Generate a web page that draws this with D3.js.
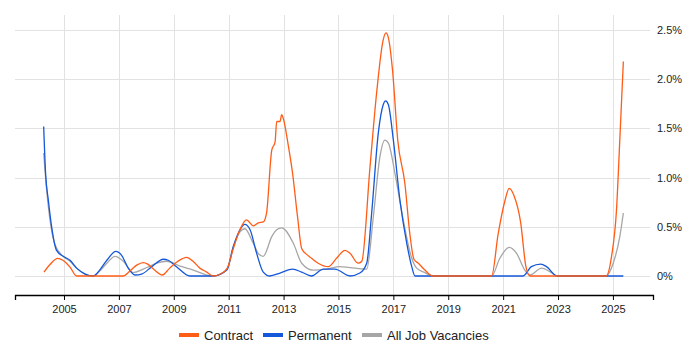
<!DOCTYPE html>
<html>
<head>
<meta charset="utf-8">
<script src="https://cdn.jsdelivr.net/npm/d3@7"></script>
<style>
	body { margin: 0; background: #fff; }
	text { font-family: "Liberation Sans", Arial, sans-serif; }
</style>
</head>
<body>
<svg id="chart" width="700" height="350"></svg>
<script>
// [year, percent]
var contract = [
	[2004.27, 0.04], [2004.5, 0.12], [2004.77, 0.18], [2004.96, 0.16], [2005.22, 0.09], [2005.46, 0],
	[2007.15, 0], [2007.4, 0.05], [2007.65, 0.11], [2007.89, 0.135], [2008.05, 0.12], [2008.3, 0.06],
	[2008.58, 0.01], [2008.85, 0.08], [2009.15, 0.15], [2009.47, 0.19], [2009.7, 0.15], [2009.95, 0.08],
	[2010.2, 0.04], [2010.44, 0], [2010.7, 0.02], [2010.95, 0.08], [2011.17, 0.28], [2011.41, 0.47],
	[2011.65, 0.57], [2011.9, 0.51], [2012.08, 0.54], [2012.26, 0.55], [2012.38, 0.64], [2012.57, 1.28],
	[2012.69, 1.36], [2012.75, 1.57], [2012.87, 1.57], [2012.93, 1.64], [2012.99, 1.6], [2013.17, 1.33],
	[2013.33, 1.04], [2013.51, 0.6], [2013.66, 0.28], [2013.84, 0.22], [2014.02, 0.18], [2014.26, 0.13],
	[2014.63, 0.095], [2014.93, 0.18], [2015.24, 0.26], [2015.42, 0.23], [2015.72, 0.13], [2015.85, 0.15],
	[2016.15, 1.11], [2016.39, 1.86], [2016.63, 2.4], [2016.73, 2.47], [2016.82, 2.42], [2016.97, 2.09],
	[2017.16, 1.38], [2017.42, 0.94], [2017.6, 0.43], [2017.75, 0.17], [2017.91, 0.13], [2018.15, 0.06],
	[2018.43, 0], [2020.58, 0], [2020.82, 0.43], [2021.07, 0.77], [2021.22, 0.89], [2021.39, 0.82],
	[2021.64, 0.54], [2021.83, 0.095], [2021.98, 0], [2024.75, 0], [2024.95, 0.2], [2025.13, 0.67],
	[2025.25, 1.38], [2025.38, 2.18]
];
var permanent = [
	[2004.26, 1.52], [2004.33, 1.04], [2004.43, 0.77], [2004.55, 0.5], [2004.73, 0.26], [2004.97, 0.2],
	[2005.22, 0.16], [2005.46, 0.08], [2005.77, 0.02], [2006.07, 0], [2006.3, 0.06], [2006.56, 0.16],
	[2006.89, 0.25], [2007.1, 0.21], [2007.34, 0.08], [2007.59, 0.01], [2007.83, 0.02], [2008.2, 0.095],
	[2008.62, 0.17], [2008.8, 0.16], [2009.1, 0.095], [2009.59, 0], [2010.44, 0], [2010.93, 0.06],
	[2011.17, 0.3], [2011.41, 0.47], [2011.59, 0.525], [2011.78, 0.47], [2012.02, 0.23], [2012.26, 0.04],
	[2012.5, 0], [2012.87, 0.03], [2013.33, 0.07], [2013.66, 0.04], [2014.02, 0], [2014.45, 0.07],
	[2014.87, 0.07], [2015.42, 0], [2015.78, 0.03], [2016.03, 0.13], [2016.21, 0.64], [2016.45, 1.45],
	[2016.63, 1.74], [2016.72, 1.78], [2016.82, 1.74], [2017.0, 1.38], [2017.24, 0.77], [2017.49, 0.33],
	[2017.67, 0.095], [2017.79, 0], [2021.73, 0], [2022.03, 0.095], [2022.37, 0.12], [2022.58, 0.095],
	[2022.97, 0], [2025.38, 0]
];
var allJobs = [
	[2004.26, 1.25], [2004.37, 0.87], [2004.49, 0.57], [2004.67, 0.32], [2004.97, 0.2], [2005.22, 0.15],
	[2005.46, 0.08], [2005.77, 0.02], [2006.07, 0], [2006.3, 0.05], [2006.56, 0.13], [2006.86, 0.2],
	[2007.16, 0.15], [2007.52, 0.035], [2007.89, 0.07], [2008.38, 0.13], [2008.74, 0.15], [2009.23, 0.1],
	[2009.71, 0.06], [2010.2, 0.01], [2010.44, 0], [2010.93, 0.06], [2011.17, 0.3], [2011.41, 0.45],
	[2011.59, 0.48], [2011.9, 0.33], [2012.1, 0.22], [2012.26, 0.2], [2012.57, 0.4], [2012.75, 0.47],
	[2012.93, 0.49], [2013.36, 0.33], [2013.66, 0.13], [2014.08, 0.06], [2014.57, 0.07], [2015.05, 0.095],
	[2015.42, 0.085], [2016.03, 0.07], [2016.27, 0.6], [2016.51, 1.21], [2016.69, 1.38], [2016.82, 1.35],
	[2017.06, 1.04], [2017.36, 0.57], [2017.67, 0.18], [2017.85, 0.08], [2018.15, 0.035], [2018.43, 0],
	[2020.58, 0], [2020.88, 0.18], [2021.22, 0.29], [2021.49, 0.23], [2021.79, 0.06], [2021.98, 0.01],
	[2022.4, 0.08], [2022.7, 0.045], [2022.97, 0], [2024.75, 0], [2025.01, 0.13], [2025.25, 0.4],
	[2025.38, 0.64]
];
var yearTicks = [2005, 2007, 2009, 2011, 2013, 2015, 2017, 2019, 2021, 2023, 2025];
var pctTicks = [0, 0.5, 1, 1.5, 2, 2.5];
var seriesNames = ["Contract", "Permanent", "All Job Vacancies"];
var seriesColors = ["#ff5c16", "#1457d9", "#a6a6a6"];

var plot = { left: 15, right: 653, top: 15, bottom: 295 };

var svg = d3.select("#chart");

var xScale = d3.scaleLinear().domain([2003.215, 2026.46]).range([plot.left, plot.right]);
var yScale = d3.scaleLinear().domain([-0.193, 2.652]).range([plot.bottom, plot.top]);

// grid
var grid = svg.append("g").attr("class", "grid");
grid.selectAll(".hGrid")
	.data(pctTicks)
	.enter()
	.append("line")
	.attr("x1", plot.left)
	.attr("x2", plot.right - 3)
	.attr("y1", function(d) { return Math.round(yScale(d)) + 0.5; })
	.attr("y2", function(d) { return Math.round(yScale(d)) + 0.5; })
	.attr("stroke", "#e2e2e2");
grid.selectAll(".vGrid")
	.data(yearTicks)
	.enter()
	.append("line")
	.attr("x1", function(d) { return Math.round(xScale(d)) + 0.5; })
	.attr("x2", function(d) { return Math.round(xScale(d)) + 0.5; })
	.attr("y1", plot.top)
	.attr("y2", plot.bottom)
	.attr("stroke", "#e2e2e2");

// lines
var line = d3.line()
	.x(function(d) { return xScale(d[0]); })
	.y(function(d) { return yScale(d[1]); })
	.curve(d3.curveMonotoneX);

var allSeries = [allJobs, permanent, contract];
var allColors = [seriesColors[2], seriesColors[1], seriesColors[0]];
svg.append("g").selectAll("path")
	.data(allSeries)
	.enter()
	.append("path")
	.attr("d", line)
	.attr("fill", "none")
	.attr("stroke", function(d, i) { return allColors[i]; })
	.attr("stroke-width", 1.3);

// x axis
var xAxis = svg.append("g")
	.attr("transform", "translate(0," + plot.bottom + ")")
	.call(d3.axisBottom(xScale).tickValues(yearTicks).tickFormat(d3.format("d")).tickSize(5).tickPadding(5));
xAxis.select(".domain").attr("stroke", "#000").attr("stroke-width", 1.3);
xAxis.selectAll(".tick line").attr("stroke", "#000");
xAxis.selectAll("text").attr("font-size", 11).attr("fill", "#222");

// y axis labels
var yAxis = svg.append("g")
	.attr("transform", "translate(" + (plot.right + 4) + ",0)")
	.call(d3.axisRight(yScale).tickValues(pctTicks).tickSize(0).tickPadding(0)
		.tickFormat(function(d) { return d === 0 ? "0%" : d3.format(".1f")(d) + "%"; }));
yAxis.select(".domain").remove();
yAxis.selectAll("text").attr("font-size", 11).attr("fill", "#222");

// legend
var legendX = [179, 263, 362];
var legend = svg.append("g").attr("class", "legend");
var items = legend.selectAll("g")
	.data(seriesNames)
	.enter()
	.append("g")
	.attr("transform", function(d, i) { return "translate(" + legendX[i] + ",335)"; });
items.append("rect")
	.attr("x", 0).attr("y", -2)
	.attr("width", 20).attr("height", 4)
	.attr("fill", function(d, i) { return seriesColors[i]; });
items.append("text")
	.attr("x", 25).attr("y", 4.5)
	.attr("font-size", 13)
	.attr("fill", "#222")
	.text(function(d) { return d; });
</script>
</body>
</html>
